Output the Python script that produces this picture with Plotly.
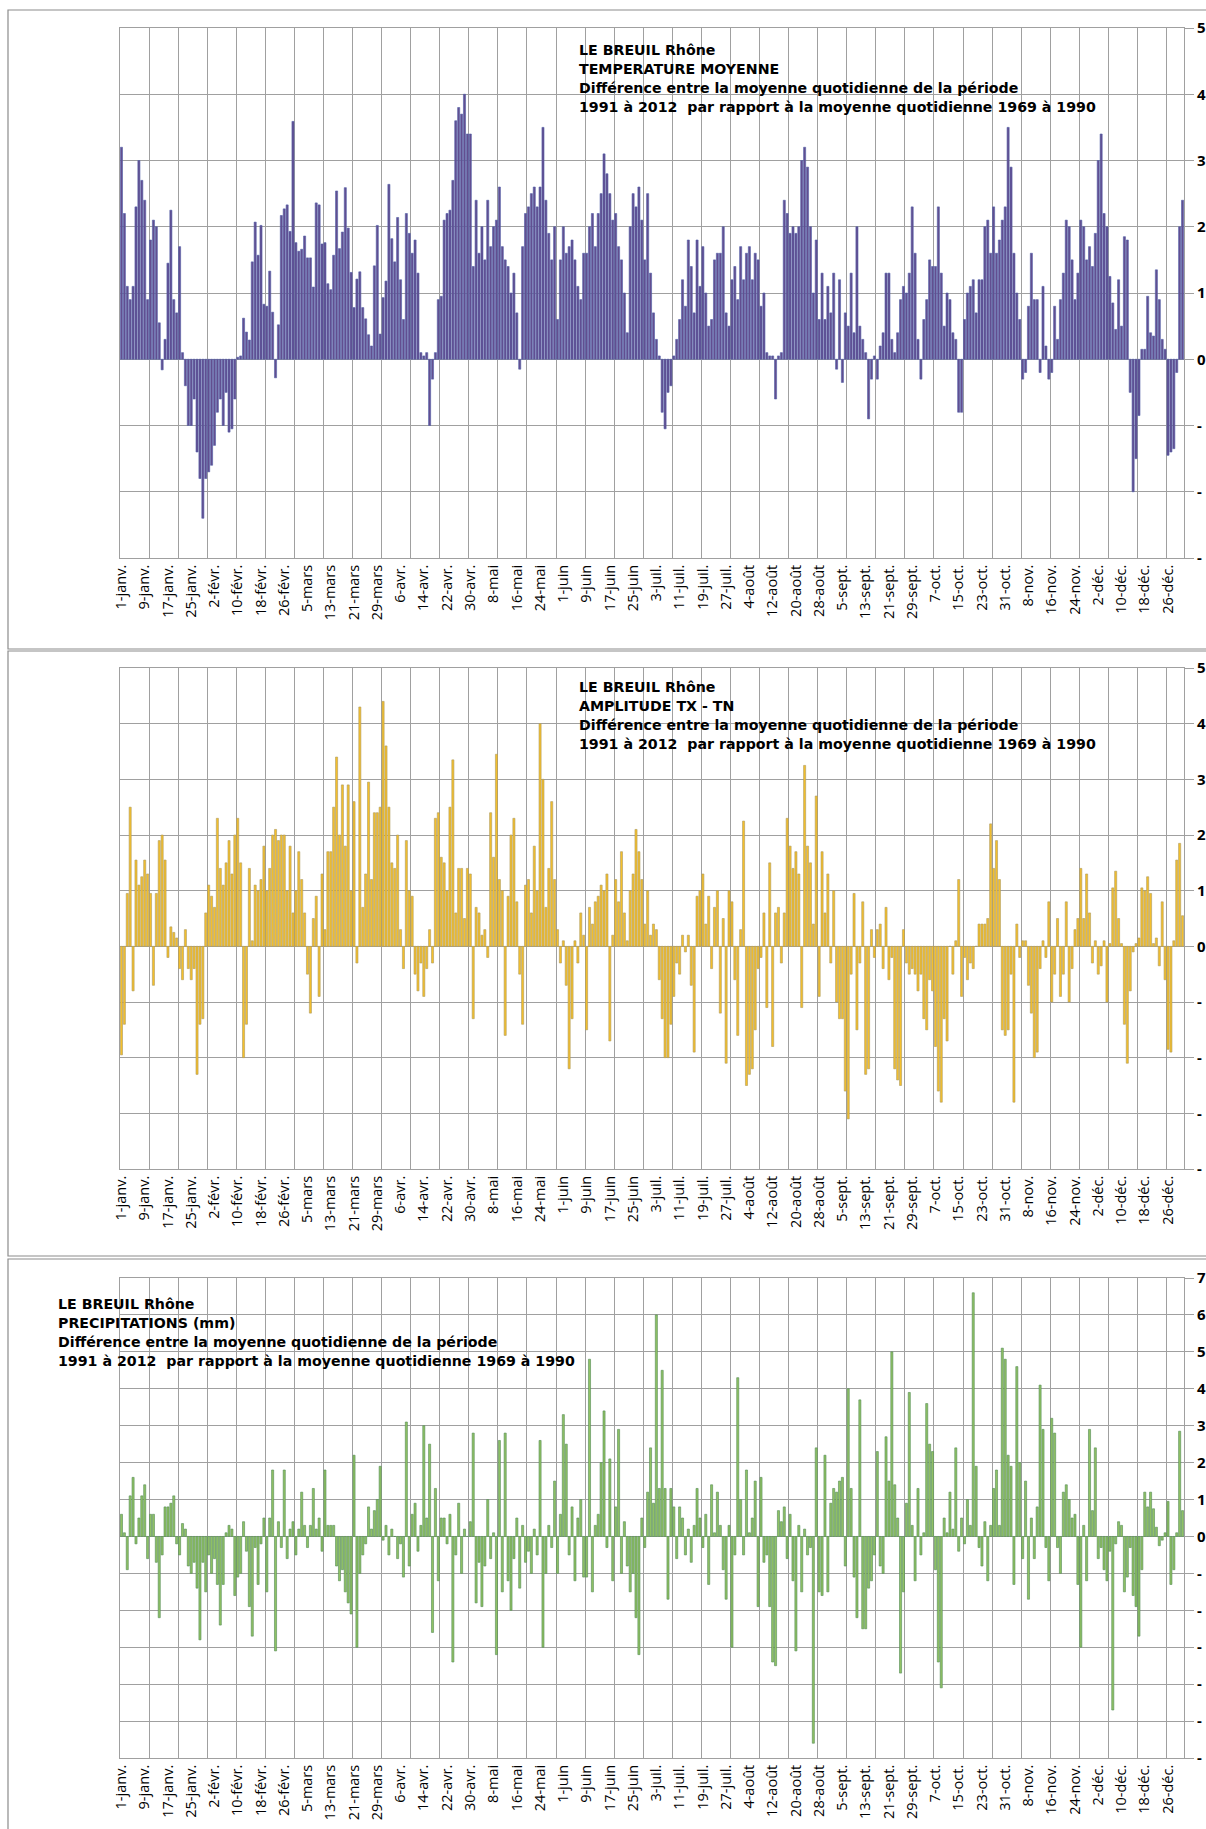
import plotly.graph_objects as go

W, H = 1206, 1829

# ---------------- data ----------------
day_index = list(range(366))

tick_labels = ["1-janv.", "9-janv.", "17-janv.", "25-janv.", "2-févr.", "10-févr.", "18-févr.",
               "26-févr.", "5-mars", "13-mars", "21-mars", "29-mars", "6-avr.", "14-avr.",
               "22-avr.", "30-avr.", "8-mai", "16-mai", "24-mai", "1-juin", "9-juin", "17-juin",
               "25-juin", "3-juil.", "11-juil.", "19-juil.", "27-juil.", "4-août", "12-août",
               "20-août", "28-août", "5-sept.", "13-sept.", "21-sept.", "29-sept.", "7-oct.",
               "15-oct.", "23-oct.", "31-oct.", "8-nov.", "16-nov.", "24-nov.", "2-déc.",
               "10-déc.", "18-déc.", "26-déc."]
tick_days = [0, 8, 16, 24, 32, 40, 48, 56, 64, 72, 80, 88, 96, 104, 112, 120, 128, 136, 144,
             152, 160, 168, 176, 184, 192, 200, 208, 216, 224, 232, 240, 248, 256, 264, 272,
             280, 288, 296, 304, 312, 320, 328, 336, 344, 352, 360]

temperature_moyenne = [
    3.2, 2.2, 1.1, 0.9, 1.1, 2.3, 3.0, 2.7,
    2.4, 0.9, 1.8, 2.1, 2.0, 0.55, -0.16, 0.3,
    1.45, 2.25, 0.9, 0.7, 1.7, 0.1, -0.4, -1.0,
    -1.0, -0.6, -1.4, -1.8, -2.4, -1.8, -1.7, -1.6,
    -1.3, -0.8, -0.6, -1.0, -0.5, -1.1, -1.05, -0.6,
    0.03, 0.05, 0.62, 0.41, 0.29, 1.47, 2.07, 1.57,
    2.02, 0.83, 0.8, 1.33, 0.71, -0.28, 0.52, 2.17,
    2.27, 2.33, 1.93, 3.59, 1.76, 1.63, 1.66, 1.86,
    1.53, 1.53, 1.09, 2.36, 2.33, 1.74, 1.76, 1.14,
    1.05, 1.57, 2.54, 1.67, 1.92, 2.59, 1.98, 1.31,
    0.78, 1.21, 1.32, 0.78, 0.61, 0.37, 0.2, 1.41,
    2.02, 0.38, 0.93, 1.18, 2.64, 1.82, 1.47, 2.14,
    1.2, 0.6, 2.2, 1.9, 1.6, 1.8, 1.3, 0.1,
    0.05, 0.1, -1.0, -0.3, 0.1, 0.9, 0.95, 2.1,
    2.2, 2.25, 2.7, 3.6, 3.8, 3.7, 4.0, 3.4,
    3.4, 1.4, 2.4, 1.6, 2.0, 1.5, 2.4, 1.7,
    2.0, 2.1, 2.6, 1.7, 1.5, 1.4, 1.0, 1.3,
    0.7, -0.15, 1.7, 2.2, 2.3, 2.5, 2.6, 2.3,
    2.6, 3.5, 2.4, 1.9, 1.5, 2.0, 0.6, 1.5,
    2.0, 1.6, 1.7, 1.8, 1.5, 1.1, 0.9, 1.6,
    1.6, 2.0, 2.2, 1.7, 2.2, 2.5, 3.1, 2.8,
    2.5, 2.1, 2.2, 1.7, 1.5, 1.0, 0.4, 2.0,
    2.5, 2.3, 2.6, 2.1, 1.5, 2.5, 1.3, 0.7,
    0.3, 0.05, -0.8, -1.05, -0.5, -0.4, 0.05, 0.3,
    0.6, 1.2, 0.8, 1.8, 1.4, 0.7, 1.8, 1.1,
    1.7, 1.0, 0.5, 0.6, 1.5, 1.6, 1.6, 2.0,
    0.7, 0.5, 1.2, 1.4, 0.9, 1.7, 1.2, 1.6,
    1.7, 1.2, 1.6, 1.5, 0.8, 1.0, 0.1, 0.05,
    0.05, -0.6, 0.05, 0.1, 2.4, 2.2, 1.9, 2.0,
    1.9, 2.0, 3.0, 3.2, 2.9, 2.0, 1.0, 1.8,
    0.6, 1.3, 0.6, 1.1, 0.7, 1.3, -0.15, 1.2,
    -0.35, 0.7, 0.5, 1.3, 0.4, 2.0, 0.5, 0.3,
    0.1, -0.9, -0.3, 0.05, -0.3, 0.2, 0.4, 1.3,
    1.3, 0.3, 0.1, 0.4, 0.9, 1.1, 1.0, 1.3,
    2.3, 1.6, 0.3, -0.3, 0.6, 0.9, 1.5, 1.4,
    1.4, 2.3, 1.3, 0.5, 1.0, 0.9, 0.4, 0.3,
    -0.8, -0.8, 0.6, 1.0, 1.1, 1.2, 0.7, 1.2,
    1.2, 2.0, 2.1, 1.6, 2.3, 1.6, 1.8, 2.1,
    2.3, 3.5, 2.9, 1.6, 1.0, 0.6, -0.3, -0.2,
    0.8, 1.6, 0.9, 0.9, -0.2, 1.1, 0.2, -0.3,
    -0.2, 0.8, 0.3, 0.9, 1.3, 2.1, 2.0, 1.5,
    0.9, 1.3, 2.1, 2.0, 1.5, 1.7, 1.4, 1.9,
    3.0, 3.4, 2.2, 2.0, 1.25, 0.85, 0.45, 1.2,
    0.5, 1.85, 1.8, -0.5, -2.0, -1.5, -0.85, 0.15,
    0.15, 0.95, 0.4, 0.35, 1.35, 0.9, 0.3, 0.15,
    -1.45, -1.4, -1.35, -0.2, 2.0, 2.4,
]

amplitude_tx_tn = [
    -1.95, -1.4, 0.95, 2.5, -0.8, 1.55, 1.1, 1.25,
    1.55, 1.3, 0.95, -0.7, 0.95, 1.9, 2.0, 1.55,
    -0.2, 0.35, 0.25, 0.15, -0.4, -0.6, 0.3, -0.4,
    -0.6, -0.4, -2.3, -1.4, -1.3, 0.6, 1.1, 0.9,
    0.7, 2.3, 1.4, 1.1, 1.5, 1.9, 1.3, 2.0,
    2.3, 1.5, -2.0, -1.4, 1.4, 0.1, 1.1, 1.0,
    1.2, 1.8, 1.0, 1.4, 2.0, 2.1, 1.9, 2.0,
    2.0, 1.0, 1.8, 0.6, 1.0, 1.7, 1.2, 0.6,
    -0.5, -1.2, 0.5, 0.9, -0.9, 1.3, 0.3, 1.7,
    1.7, 2.5, 3.4, 2.0, 2.9, 1.8, 2.9, 1.0,
    2.6, -0.3, 4.3, 0.7, 1.3, 2.95, 1.2, 2.4,
    2.4, 2.5, 4.4, 3.6, 2.5, 1.5, 1.4, 2.0,
    0.3, -0.4, 1.9, 1.0, 0.9, -0.5, -0.8, -0.3,
    -0.9, -0.4, 0.3, -0.3, 2.3, 2.4, 1.6, 1.5,
    1.0, 2.5, 3.35, 0.6, 1.4, 1.4, 0.5, 1.4,
    1.3, -1.3, 0.7, 0.6, 0.2, 0.3, -0.2, 2.4,
    1.6, 3.45, 1.2, 1.0, -1.6, 0.9, 2.0, 2.3,
    0.8, -0.5, -1.4, 1.1, 1.2, 0.6, 1.8, 1.0,
    4.0, 3.0, 0.7, 1.4, 2.6, 1.2, 0.3, -0.3,
    0.1, -0.7, -2.2, -1.3, 0.1, -0.3, 0.6, 0.2,
    -1.5, 0.7, 0.4, 0.8, 0.9, 1.1, 1.0, 1.3,
    -1.7, 0.2, 1.2, 0.8, 1.7, 0.6, 0.1, 1.0,
    1.3, 2.1, 1.7, 1.2, 0.4, 1.0, 0.2, 0.4,
    0.3, -0.6, -1.3, -2.0, -2.0, -1.4, -0.9, -0.3,
    -0.5, 0.2, -0.1, 0.2, -0.7, -1.9, 0.9, 1.0,
    1.3, 0.4, 0.9, -0.4, 0.7, 1.0, -1.2, 0.5,
    -2.1, 1.0, 0.8, -0.6, -1.6, 0.3, 2.25, -2.5,
    -2.3, -2.2, -1.5, -0.4, -0.2, 0.6, -1.1, 1.5,
    -1.8, 0.6, 0.7, -0.3, 0.6, 2.3, 1.8, 1.4,
    1.7, 1.3, -1.1, 3.25, 1.8, 1.5, 0.4, 2.7,
    -0.9, 1.7, 0.6, 1.3, -0.3, 1.0, -1.0, -1.3,
    -1.3, -2.6, -3.1, -0.5, 0.95, -1.5, -0.3, 0.8,
    -2.3, -2.2, 0.3, -0.2, 0.3, 0.4, -0.4, 0.7,
    -0.6, -0.2, -2.2, -2.4, -2.5, 0.3, -0.3, -0.5,
    -0.4, -0.5, -0.8, -0.5, -1.3, -1.5, -0.6, -0.8,
    -1.8, -2.6, -2.8, -1.3, -1.7, 0.0, -0.5, 0.1,
    1.2, -0.9, -0.2, -0.6, -0.3, -0.4, 0.0, 0.4,
    0.4, 0.4, 0.5, 2.2, 1.4, 1.9, 1.2, -1.5,
    -1.6, -1.5, -0.5, -2.8, 0.4, -0.2, 0.1, 0.1,
    -0.7, -1.2, -2.0, -1.9, -0.4, 0.1, -0.2, 0.8,
    -1.0, -0.5, 0.5, -0.9, -0.5, 0.8, -1.0, -0.4,
    0.3, 0.5, 1.4, 0.5, 1.3, 0.6, -0.3, 0.1,
    -0.5, -0.35, 0.1, -1.0, 0.05, 1.05, 1.35, 0.5,
    0.05, -1.4, -2.1, -0.8, -0.1, 0.05, 0.15, 1.05,
    1.0, 1.25, 0.95, 0.05, 0.15, -0.35, 0.8, -0.6,
    -1.85, -1.9, 0.1, 1.55, 1.85, 0.55,
]

precipitations_mm = [
    0.6, 0.1, -0.9, 1.1, 1.6, -0.2, 0.5, 1.1,
    1.4, -0.6, 0.6, 0.6, -0.7, -2.2, -0.5, 0.8,
    0.8, 0.9, 1.1, -0.2, -0.5, 0.35, 0.2, -0.8,
    -1.0, -0.7, -1.4, -2.8, -0.7, -1.5, -0.5, -1.0,
    -0.6, -1.3, -2.4, -1.3, 0.1, 0.3, 0.2, -1.6,
    -1.1, -1.0, 0.4, -0.4, -1.9, -2.7, -0.3, -1.3,
    -0.2, 0.5, -1.5, 0.5, 1.8, -3.1, 0.4, -0.3,
    1.8, -0.6, 0.2, 0.4, -0.5, 0.2, 1.2, 0.3,
    -0.3, 0.3, 1.3, 0.2, 0.5, -0.4, 1.8, 0.3,
    0.3, 0.3, -0.8, -1.2, -0.9, -1.5, -1.8, -2.1,
    2.2, -3.0, -1.0, -0.5, -0.2, 0.8, 0.2, 0.7,
    1.0, 1.9, -0.1, 0.3, -0.5, 0.2, 0.0, -0.6,
    -0.2, -1.1, 3.1, -0.8, 0.6, 0.9, -0.4, 0.3,
    3.0, 0.5, 2.5, -2.6, 1.3, -1.2, 0.5, 0.5,
    -0.2, 0.6, -3.4, -0.5, 0.9, -1.0, 0.2, 0.0,
    0.4, 2.8, -1.8, -0.7, -1.9, -0.8, 1.0, -0.6,
    0.1, -3.2, 2.6, -1.5, 2.8, -1.2, -2.0, -0.6,
    0.5, -1.4, 0.3, -0.7, -0.4, -1.0, 0.2, -0.5,
    2.6, -3.0, -1.0, 0.3, -0.3, 1.5, -1.0, 0.6,
    3.3, 2.5, -0.5, 0.8, -1.2, 0.5, 1.0, -1.1,
    -1.1, 4.8, -1.5, 0.3, 0.6, 2.0, 3.4, -0.3,
    2.1, -1.2, 0.8, 2.9, -1.0, 0.4, -0.8, -1.5,
    -1.0, -2.2, -3.2, 0.5, -0.3, 1.2, 2.4, 0.9,
    6.0, 1.3, 4.5, 1.3, -1.7, 1.3, 0.8, -0.6,
    0.8, 0.5, -0.5, 0.2, -0.7, 0.3, 1.3, 0.5,
    -0.3, 0.6, -1.3, 1.4, 0.1, 1.2, 0.3, -0.9,
    -1.7, 0.3, -3.0, -0.5, 4.3, 1.0, -0.5, 1.8,
    0.1, 0.5, 1.5, -1.9, 1.6, -0.7, -0.5, -1.9,
    -3.4, -3.5, 0.7, 0.4, 0.8, -0.6, 0.6, -1.2,
    -3.1, 0.3, -1.5, 0.2, -0.5, -0.3, -5.6, 2.4,
    -1.5, -1.6, 2.2, -1.5, 0.9, 1.3, 1.2, 1.5,
    1.6, -0.8, 4.0, 1.3, -1.1, -2.2, 3.7, -2.5,
    -2.5, -1.4, -1.2, -0.5, 2.3, -0.8, -1.0, 2.7,
    1.5, 5.0, 1.4, 0.5, -3.7, -1.5, 0.9, 3.9,
    0.3, -1.2, 1.3, -0.5, 0.1, 3.6, 2.5, 2.3,
    -0.9, -3.4, -4.1, 0.5, 0.1, 1.2, 0.2, 2.4,
    -0.4, 0.5, -0.2, 1.0, 0.3, 6.6, 1.9, -0.3,
    -0.8, 0.4, -1.2, 0.3, 1.3, 1.8, 0.3, 5.1,
    4.8, 2.2, 1.9, -1.3, 4.6, 2.0, -0.6, 1.5,
    -1.7, 0.5, -0.6, 0.8, 4.1, 2.9, -0.3, -1.2,
    3.2, 2.8, -0.3, -1.0, 1.2, 1.4, 1.0, 0.5,
    0.6, -1.3, -3.0, 0.3, -1.2, 2.9, 0.7, 2.4,
    -0.6, -0.3, -0.9, -1.2, -0.4, -4.7, -0.2, 0.4,
    0.3, -1.5, -1.1, -0.3, -1.6, -1.9, -2.7, -0.9,
    1.2, 0.8, 1.2, 0.75, 0.25, -0.25, -0.1, 0.1,
    0.95, -1.3, -0.9, 0.1, 2.85, 0.7,
]

titles = [
    ["LE BREUIL Rhône", "TEMPERATURE MOYENNE",
     "Différence entre la moyenne quotidienne de la période",
     "1991 à 2012  par rapport à la moyenne quotidienne 1969 à 1990"],
    ["LE BREUIL Rhône", "AMPLITUDE TX - TN",
     "Différence entre la moyenne quotidienne de la période",
     "1991 à 2012  par rapport à la moyenne quotidienne 1969 à 1990"],
    ["LE BREUIL Rhône", "PRECIPITATIONS (mm)",
     "Différence entre la moyenne quotidienne de la période",
     "1991 à 2012  par rapport à la moyenne quotidienne 1969 à 1990"],
]

y_ticks = [
    [-3, -2, -1, 0, 1, 2, 3, 4, 5],
    [-4, -3, -2, -1, 0, 1, 2, 3, 4, 5],
    [-6, -5, -4, -3, -2, -1, 0, 1, 2, 3, 4, 5, 6, 7],
]
# right-hand labels are cut by the picture edge: only the first glyph shows
y_tick_text = [[("-" if v < 0 else str(v)) for v in t] for t in y_ticks]

series = [temperature_moyenne, amplitude_tx_tn, precipitations_mm]

# ---------------- styling / layout ----------------
def px_x(x):
    return x / W

def px_y(y):
    return 1 - y / H

panels = [
    dict(top=28, bottom=558, fill="#634e90", line="#5060a8",
         box=(10, 649), title_x=578, title_y=[50, 69, 88, 107]),
    dict(top=668, bottom=1169, fill="#f4bf2c", line="#ad9a5e",
         box=(651, 1256), title_x=578, title_y=[687, 706, 725, 744]),
    dict(top=1278, bottom=1758, fill="#90c164", line="#528c55",
         box=(1259, 1840), title_x=57, title_y=[1304, 1323, 1342, 1361]),
]

PLOT_L, PLOT_R = 120, 1184
GRID = "#a0a0a0"
FONT = "Open Sans, Liberation Sans, Arial, sans-serif"
TITLE_FONT = "DejaVu Sans, Open Sans, sans-serif"

fig = go.Figure()
annotations = []
shapes = []
layout_axes = {}

for i, (p, vals) in enumerate(zip(panels, series)):
    n = "" if i == 0 else str(i + 1)
    fig.add_trace(go.Bar(
        x=day_index, y=vals,
        xaxis="x" + n, yaxis="y" + n,
        marker=dict(color=p["fill"], line=dict(color=p["line"], width=0.6)),
        showlegend=False,
    ))
    layout_axes["xaxis" + n] = dict(
        domain=[px_x(PLOT_L), px_x(PLOT_R)],
        anchor="y" + n,
        range=[-0.5, 365.5],
        tickmode="array", tickvals=tick_days, ticktext=tick_labels,
        tickangle=-90, ticks="", showgrid=False, zeroline=False,
        tickfont=dict(family=FONT, size=14.5, color="#000000"),
        showline=True, linecolor=GRID, linewidth=1, mirror=True,
        minor=dict(showgrid=True, gridcolor=GRID, gridwidth=1, tick0=-0.5, dtick=10),
        automargin=False, fixedrange=True,
    )
    yt = y_ticks[i]
    layout_axes["yaxis" + n] = dict(
        domain=[px_y(p["bottom"]), px_y(p["top"])],
        anchor="x" + n, side="right",
        range=[yt[0], yt[-1]],
        tickmode="array", tickvals=yt, ticktext=y_tick_text[i],
        showgrid=True, gridcolor=GRID, gridwidth=1, zeroline=False,
        ticks="outside", ticklen=9, tickcolor=GRID, tickwidth=1,
        tickfont=dict(family=FONT, size=15, color="#000000", weight="bold"),
        showline=True, linecolor=GRID, linewidth=1, mirror=True,
        automargin=False, fixedrange=True,
    )
    for line_text, ty in zip(titles[i], p["title_y"]):
        annotations.append(dict(
            text=line_text, x=px_x(p["title_x"]), y=px_y(ty),
            xref="paper", yref="paper", xanchor="left", yanchor="middle",
            showarrow=False, borderpad=0,
            font=dict(family=TITLE_FONT, size=14.2, color="#000000", weight="bold"),
        ))
    shapes.append(dict(
        type="rect", xref="paper", yref="paper",
        x0=px_x(8), x1=px_x(1230), y0=px_y(p["box"][1]), y1=px_y(p["box"][0]),
        line=dict(color="#8c8c8c", width=1.2), fillcolor="rgba(0,0,0,0)", layer="below",
    ))

fig.update_layout(
    width=W, height=H,
    margin=dict(l=0, r=0, t=0, b=0),
    paper_bgcolor="#ffffff", plot_bgcolor="#ffffff",
    bargap=0.28,
    annotations=annotations, shapes=shapes,
    **layout_axes,
)

fig.write_html(
    "out.html",
    config={"displayModeBar": False},
    post_script="document.body.style.margin='0';document.body.style.overflow='hidden';",
)
